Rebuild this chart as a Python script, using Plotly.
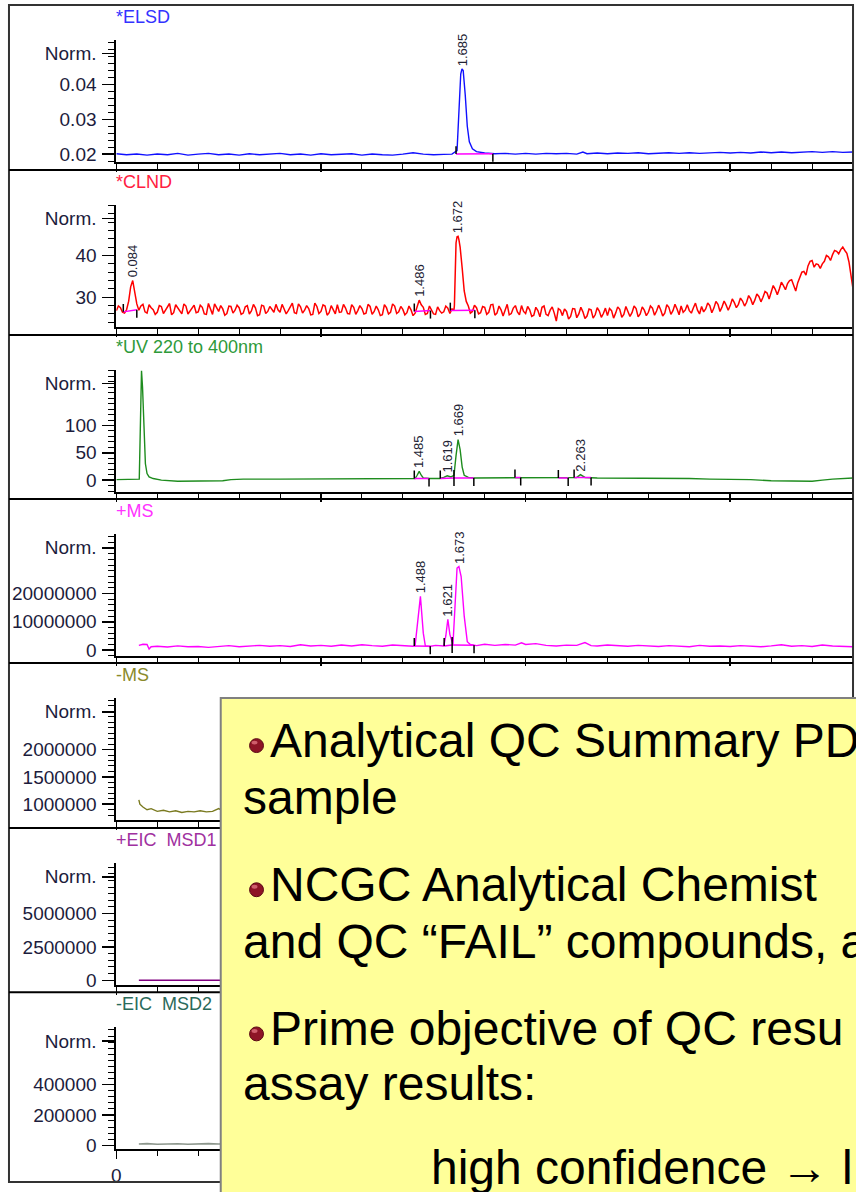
import plotly.graph_objects as go

W, H = 856, 1192

# ---------------- data ----------------
x_range = [0, 3.6]
x_tickvals = [0, 1, 2, 3]
x_ticktext = ["0", "1", "2", "3"]

titles = ["*ELSD", "*CLND", "*UV 220 to 400nm", "+MS", "-MS",
          "+EIC\u00a0 MSD1", "-EIC\u00a0 MSD2"]

# ELSD
elsd_t = [0.00, 0.05, 0.10, 0.15, 0.20, 0.25, 0.30, 0.35, 0.40, 0.45, 0.50, 0.55, 0.60, 0.65,
          0.70, 0.75, 0.80, 0.85, 0.90, 0.95, 1.00, 1.05, 1.10, 1.15, 1.20, 1.25, 1.30, 1.35,
          1.40, 1.45, 1.50, 1.55, 1.60, 1.64, 1.665, 1.675, 1.683, 1.689, 1.695, 1.705, 1.715,
          1.725, 1.74, 1.76, 1.80, 1.85, 1.90, 1.95, 2.00, 2.05, 2.10, 2.15, 2.20, 2.25, 2.28,
          2.30, 2.35, 2.40, 2.45, 2.50, 2.55, 2.60, 2.65, 2.70, 2.75, 2.80, 2.85, 2.90, 2.95,
          3.00, 3.05, 3.10, 3.15, 3.20, 3.25, 3.30, 3.35, 3.40, 3.45, 3.50, 3.55, 3.60]
elsd_v = [0.0201, 0.0198, 0.0200, 0.0197, 0.0200, 0.0198, 0.0202, 0.0197, 0.0200, 0.0202,
          0.0198, 0.0200, 0.0197, 0.0201, 0.0198, 0.0200, 0.0202, 0.0198, 0.0200, 0.0197,
          0.0201, 0.0198, 0.0200, 0.0201, 0.0197, 0.0200, 0.0198, 0.0197, 0.0200, 0.0204,
          0.0200, 0.0198, 0.0199, 0.0200, 0.0210, 0.0330, 0.0430, 0.0445, 0.0440, 0.0370,
          0.0280, 0.0235, 0.0215, 0.0207, 0.0203, 0.0201, 0.0202, 0.0200, 0.0202, 0.0200,
          0.0202, 0.0201, 0.0202, 0.0200, 0.0206, 0.0201, 0.0203, 0.0201, 0.0203, 0.0202,
          0.0204, 0.0201, 0.0203, 0.0204, 0.0202, 0.0204, 0.0202, 0.0204, 0.0205, 0.0203,
          0.0205, 0.0203, 0.0206, 0.0204, 0.0206, 0.0204, 0.0206, 0.0207, 0.0205, 0.0207,
          0.0205, 0.0206]

# CLND: samples at 0.00, 0.02, ... and at 0.01, 0.03, ... plus extra points at the main peak
clnd_dt = 0.02
clnd_v = [26.8, 27.5, 26.2, 29.0, 34.0, 28.4, 27.9, 26.5, 28.2, 27.0,
          26.4, 27.8, 26.9, 28.5, 26.3, 27.4, 26.0, 27.9, 26.7, 28.1,
          26.5, 27.6, 25.9, 27.3, 28.4, 26.6, 27.2, 26.1, 27.8, 26.9,
          27.5, 26.2, 28.0, 26.7, 27.4, 25.8, 27.9, 26.6, 27.1, 28.3,
          26.4, 27.2, 26.8, 28.6, 26.1, 27.7, 26.9, 27.3, 25.9, 27.8,
          26.6, 27.9, 26.3, 27.1, 28.2, 26.5, 27.4, 26.0, 27.6, 26.8,
          27.3, 26.2, 27.8, 26.6, 27.0, 25.8, 27.5, 26.4, 27.9, 26.5,
          27.1, 26.3, 27.0, 26.2, 29.3, 27.6, 26.1, 26.9, 25.9, 26.8,
          26.5, 27.4, 27.2, 43.0, 42.0, 31.5, 27.9, 26.6, 27.5, 26.3,
          27.6, 26.4, 28.3, 26.2, 27.0, 26.7, 25.8, 27.4, 26.5, 28.0,
          26.1, 27.0, 25.7, 26.8, 27.6, 25.9, 26.9, 26.2, 27.3, 25.6,
          26.6, 25.4, 27.2, 26.0, 26.5, 25.5, 27.0, 25.8, 26.7, 26.1,
          25.6, 26.8, 26.2, 27.1, 25.9, 26.6, 26.3, 27.3, 26.0, 26.9,
          26.4, 27.4, 26.7, 27.0, 26.2, 27.6, 26.8, 27.2, 27.9, 26.9,
          26.8, 27.5, 26.9, 27.8, 27.2, 28.0, 27.4, 28.3, 27.7, 28.1,
          28.0, 28.7, 28.3, 29.1, 28.8, 29.6, 29.3, 30.2, 30.0, 31.0,
          31.2, 31.9, 32.0, 32.8, 33.3, 34.2, 31.5, 34.8, 36.2, 37.5,
          38.8, 38.0, 36.9, 38.6, 39.7, 40.2, 41.0, 41.4, 41.2, 38.5,
          32.0]
clnd_v_mid = [27.9, 26.4, 27.0, 32.5, 31.0, 26.9, 28.3, 26.2, 27.5, 25.9,
              28.0, 26.1, 27.9, 25.8, 28.2, 26.5, 28.4, 26.0, 27.5, 26.3,
              28.1, 26.0, 28.5, 25.9, 27.3, 28.0, 25.7, 27.9, 26.2, 28.1,
              25.9, 27.7, 26.0, 28.3, 25.6, 28.1, 26.1, 27.8, 26.4, 27.0,
              28.3, 26.0, 27.9, 26.3, 28.4, 26.2, 28.0, 25.8, 28.6, 26.1,
              28.2, 25.7, 28.0, 26.0, 26.4, 28.3, 26.1, 28.2, 25.9, 28.0,
              26.0, 28.3, 25.9, 27.9, 25.6, 28.2, 26.0, 28.4, 26.1, 27.8,
              25.8, 27.9, 25.6, 27.8, 28.2, 25.9, 27.9, 26.0, 27.7, 26.2,
              27.9, 26.1, 27.0, 44.6, 37.0, 29.0, 26.2, 28.1, 26.0, 27.8,
              25.9, 28.2, 25.7, 27.9, 25.5, 28.3, 26.1, 28.0, 25.8, 26.6,
              27.8, 25.4, 27.6, 25.3, 27.9, 25.6, 27.7, 24.3, 26.9, 27.2,
              24.8, 27.3, 25.1, 27.6, 24.9, 27.2, 25.0, 27.5, 25.2, 27.4,
              27.3, 25.0, 27.7, 25.2, 27.8, 25.4, 27.9, 25.3, 27.7, 25.6,
              27.9, 25.7, 28.1, 25.5, 28.2, 25.9, 28.3, 25.8, 26.4, 28.2,
              26.2, 28.6, 26.0, 26.5, 28.6, 26.3, 29.0, 26.6, 29.1, 26.9,
              29.6, 27.5, 29.8, 27.9, 30.4, 28.2, 30.8, 28.9, 31.4, 29.6,
              32.8, 30.6, 33.6, 31.8, 34.0, 33.0, 33.5, 36.0, 35.3, 38.6,
              37.2, 37.8, 38.0, 40.0, 38.8, 41.2, 40.4, 42.0, 40.5, 35.5]
clnd_extra_t = [1.652, 1.665, 1.674]
clnd_extra_v = [28.0, 44.5, 43.8]

# UV 220-400 nm
uv_t = [0.00, 0.05, 0.10, 0.112, 0.118, 0.123, 0.128, 0.135, 0.142, 0.150, 0.16, 0.18, 0.22,
        0.30, 0.40, 0.48, 0.52, 0.56, 0.62, 0.80, 1.00, 1.20, 1.40, 1.46, 1.47, 1.48, 1.49,
        1.50, 1.53, 1.58, 1.60, 1.617, 1.635, 1.65, 1.66, 1.67, 1.68, 1.69, 1.70, 1.72, 1.75,
        1.80, 1.90, 1.95, 2.00, 2.10, 2.20, 2.25, 2.268, 2.29, 2.35, 2.50, 2.60, 2.70, 2.80,
        2.90, 3.00, 3.10, 3.20, 3.30, 3.40, 3.45, 3.50, 3.60]
uv_v = [1, 1, 1, 2, 110, 200, 170, 80, 30, 12, 6, 3, 0,
        -2, -2, -2, -1, 1, 2, 2, 2, 2, 3, 3, 9, 16, 9,
        4, 3, 3, 5, 8, 6, 9, 45, 74, 56, 24, 9, 5, 4,
        4, 4, 5, 5, 4, 4, 5, 10, 5, 4, 4, 4, 4, 3,
        2, 2, 1, -1, -2, -2, 0, 2, 4]

# +MS (counts)
pms_t = [0.11, 0.12, 0.13, 0.15, 0.16, 0.17, 0.20, 0.25, 0.30, 0.35, 0.40, 0.45, 0.50, 0.55,
         0.60, 0.65, 0.70, 0.75, 0.80, 0.85, 0.90, 0.95, 1.00, 1.05, 1.10, 1.15, 1.20, 1.25,
         1.30, 1.35, 1.40, 1.45, 1.46, 1.47, 1.486, 1.50, 1.51, 1.53, 1.56, 1.60, 1.61, 1.62,
         1.63, 1.645, 1.655, 1.665, 1.674, 1.685, 1.70, 1.715, 1.73, 1.76, 1.80, 1.85, 1.90,
         1.95, 1.98, 2.00, 2.05, 2.10, 2.15, 2.20, 2.25, 2.29, 2.32, 2.35, 2.40, 2.45, 2.50,
         2.55, 2.60, 2.65, 2.70, 2.75, 2.80, 2.85, 2.90, 2.95, 3.00, 3.05, 3.10, 3.15, 3.20,
         3.25, 3.30, 3.35, 3.40, 3.45, 3.50, 3.55, 3.60]
pms_v = [1.7e6, 2.0e6, 2.1e6, 2.0e6, 0.4e6, 1.2e6, 1.4e6, 1.1e6, 1.5e6, 1.2e6, 1.3e6, 1.0e6,
         1.4e6, 1.6e6, 1.2e6, 1.5e6, 1.7e6, 1.4e6, 1.6e6, 1.3e6, 1.9e6, 1.5e6, 1.7e6, 1.4e6,
         1.8e6, 1.5e6, 1.9e6, 1.6e6, 1.4e6, 1.8e6, 1.5e6, 1.4e6, 1.6e6, 9.0e6, 1.9e7, 6.0e6,
         1.5e6, 1.3e6, 1.7e6, 1.5e6, 5.0e6, 1.09e7, 5.5e6, 2.0e6, 1.6e7, 2.9e7, 2.95e7, 2.6e7,
         1.2e7, 3.0e6, 2.0e6, 1.6e6, 2.1e6, 1.7e6, 2.0e6, 1.8e6, 2.6e6, 2.0e6, 2.3e6, 1.7e6,
         1.5e6, 1.8e6, 1.7e6, 2.7e6, 1.6e6, 1.5e6, 1.8e6, 1.6e6, 1.4e6, 1.7e6, 1.5e6, 1.3e6,
         1.6e6, 1.4e6, 1.2e6, 1.7e6, 1.4e6, 1.5e6, 1.3e6, 1.6e6, 1.4e6, 1.2e6, 1.5e6, 1.9e6,
         1.4e6, 1.6e6, 1.3e6, 1.8e6, 1.5e6, 1.4e6, 1.2e6]

# -MS (counts)
nms_t = [0.11, 0.115, 0.13, 0.15, 0.17, 0.20, 0.23, 0.26, 0.29, 0.32, 0.35, 0.38, 0.41, 0.44,
         0.47, 0.50, 0.52, 0.60, 1.00, 1.50, 2.00, 2.50, 3.00, 3.60]
nms_v = [1.08e6, 1.0e6, 0.95e6, 0.90e6, 0.92e6, 0.87e6, 0.89e6, 0.86e6, 0.88e6, 0.85e6,
         0.87e6, 0.86e6, 0.88e6, 0.86e6, 0.87e6, 0.92e6, 0.88e6, 0.87e6, 0.88e6, 0.90e6,
         0.88e6, 0.87e6, 0.88e6, 0.87e6]

# +EIC MSD1
peic_t = [0.11, 1.00, 2.00, 3.60]
peic_v = [0, 0, 0, 0]

# -EIC MSD2
neic_t = [0.11, 0.15, 0.20, 0.25, 0.30, 0.35, 0.40, 0.45, 0.50, 0.55, 1.00, 2.00, 3.60]
neic_v = [8e3, 1.1e4, 7e3, 9e3, 1.0e4, 7e3, 9e3, 1.1e4, 8e3, 9e3, 8e3, 8e3, 8e3]

# y-axis ticks per panel
y_ranges = [[0.01771, 0.05286], [22.86, 52.14], [-21.8, 201.8], [-2.1e6, 4.105e7],
            [7.09e5, 2.945e6], [-3.7e5, 8.81e6], [-2.6e4, 7.8e5]]
y_major = [[0.02, 0.03, 0.04], [30, 40], [0, 50, 100], [0, 1e7, 2e7],
           [1e6, 1.5e6, 2e6], [0, 2.5e6, 5e6], [0, 2e5, 4e5]]
y_major_txt = [["0.02", "0.03", "0.04"], ["30", "40"], ["0", "50", "100"],
               ["0", "10000000", "20000000"], ["1000000", "1500000", "2000000"],
               ["0", "2500000", "5000000"], ["0", "200000", "400000"]]
y_minor = [0.002, 2, 10, 2e6, 1e5, 5e5, 4e4]

# peak labels
peak_panel = [0, 1, 1, 1, 2, 2, 2, 2, 3, 3, 3]
peak_text = ["1.685", "0.084", "1.486", "1.672", "1.485", "1.619", "1.669", "2.263",
             "1.488", "1.621", "1.673"]
peak_time = [1.689, 0.078, 1.480, 1.665, 1.480, 1.617, 1.670, 2.268, 1.486, 1.620, 1.674]
peak_apex = [0.0445, 34.0, 29.3, 44.5, 16, 8, 74, 10, 1.9e7, 1.09e7, 2.95e7]

# integration events
int_panel = [0, 1, 1, 1, 2, 2, 2, 2, 2, 2, 3, 3, 3]
int_start = [1.66, 0.034, 1.456, 1.632, 1.456, 1.583, 1.65, 1.948, 2.16, 2.237, 1.456, 1.602, 1.641]
int_sbase = [0.0200, 26.5, 26.6, 26.8, 3, 3, 4, 5, 4, 5, 1.5e6, 1.5e6, 1.8e6]
int_end = [1.84, 0.100, 1.535, 1.752, 1.528, 1.65, 1.747, 1.976, 2.208, 2.32, 1.534, 1.641, 1.748]
int_ebase = [0.0201, 27.0, 26.8, 26.9, 3, 4, 4, 5, 4, 5, 1.4e6, 1.8e6, 1.7e6]

# text box content
box_lines = ["Analytical QC Summary PD", "sample", "NCGC Analytical Chemist",
             "and QC \u201cFAIL\u201d compounds, a", "Prime objective of QC resu",
             "assay results:", "high confidence \u2192 l"]

# ---------------- styling ----------------
title_colors = ["#3333FF", "#FF2040", "#2E9A3A", "#FF33FF", "#8A8A2A", "#A030A0", "#2A6A5A"]
line_colors = ["#1010FF", "#FF0000", "#1E8C1E", "#FF00FF", "#7A7A20", "#800080", "#8C968C"]
line_widths = [1.4, 1.5, 1.4, 1.4, 1.4, 1.6, 1.6]
tick_color = "#1c1c3c"
FONT = "Liberation Sans, Arial, sans-serif"

tops = [5, 171, 337, 502, 667, 833, 998]
AX_TOP, AX_BOT = 35, 158
x_dom = [112 / W, 853 / W]

clnd_pts = [(round(i * clnd_dt, 3), v) for i, v in enumerate(clnd_v)]
clnd_pts += [(round(0.01 + i * clnd_dt, 3), v) for i, v in enumerate(clnd_v_mid)]
clnd_pts += list(zip(clnd_extra_t, clnd_extra_v))
clnd_pts.sort()
clnd_t = [p[0] for p in clnd_pts]
clnd_vv = [p[1] for p in clnd_pts]

series = [(elsd_t, elsd_v), (clnd_t, clnd_vv), (uv_t, uv_v), (pms_t, pms_v),
          (nms_t, nms_v), (peic_t, peic_v), (neic_t, neic_v)]

fig = go.Figure()
annotations = []
shapes = []


def py(px):
    return 1 - px / H


def px_x(px):
    return px / W


for k in range(7):
    n = k + 1
    sfx = "" if n == 1 else str(n)
    xa, ya = "x" + sfx, "y" + sfx
    S = tops[k]
    y0, y1 = y_ranges[k]
    span = y1 - y0
    t, v = series[k]
    fig.add_trace(go.Scatter(x=t, y=v, mode="lines",
                             line=dict(color=line_colors[k], width=line_widths[k]),
                             xaxis=xa, yaxis=ya, showlegend=False, hoverinfo="skip"))

    ix, iy, tx, ty = [], [], [], []
    unit = span / (AX_BOT - AX_TOP)
    for j, pn in enumerate(int_panel):
        if pn != k:
            continue
        ix += [int_start[j], int_end[j], None]
        iy += [int_sbase[j], int_ebase[j], None]
        tx += [int_start[j], int_start[j], None, int_end[j], int_end[j], None]
        ty += [int_sbase[j], int_sbase[j] + 8 * unit, None,
               int_ebase[j], int_ebase[j] - 8 * unit, None]
    if ix:
        fig.add_trace(go.Scatter(x=ix, y=iy, mode="lines", line=dict(color="#FF00FF", width=1.5),
                                 xaxis=xa, yaxis=ya, showlegend=False, hoverinfo="skip"))
        fig.add_trace(go.Scatter(x=tx, y=ty, mode="lines", line=dict(color="black", width=1.5),
                                 xaxis=xa, yaxis=ya, showlegend=False, hoverinfo="skip"))

    for j, pn in enumerate(peak_panel):
        if pn != k:
            continue
        annotations.append(dict(xref=xa, yref=ya, x=peak_time[j], y=peak_apex[j],
                                text=peak_text[j], textangle=-90, showarrow=False,
                                xanchor="center", yanchor="bottom", yshift=1,
                                font=dict(family=FONT, size=13, color="#222233")))

    norm_v = y0 + (AX_BOT - 49) / (AX_BOT - AX_TOP) * span
    dom = [py(S + AX_BOT), py(S + AX_TOP)]
    fig.update_layout(**{
        "xaxis" + sfx: dict(domain=x_dom, range=x_range, anchor=ya, showline=True,
                            linecolor="black", linewidth=2, ticks="outside", ticklen=8,
                            tickwidth=1.5, tickcolor="black", tickmode="array",
                            tickvals=x_tickvals, ticktext=x_ticktext,
                            showticklabels=(n == 7), showgrid=False, zeroline=False,
                            tickfont=dict(family=FONT, size=19, color=tick_color),
                            minor=dict(tickmode="linear", tick0=0, dtick=0.2, ticks="outside",
                                       ticklen=5, tickwidth=1, tickcolor="black", showgrid=False),
                            fixedrange=True),
        "yaxis" + sfx: dict(domain=dom, range=[y0, y1], anchor=xa, showline=True,
                            linecolor="black", linewidth=2, ticks="outside", ticklen=12,
                            tickwidth=1.5, tickcolor="black", tickmode="array",
                            tickvals=[norm_v] + y_major[k],
                            ticktext=["Norm."] + y_major_txt[k],
                            showgrid=False, zeroline=False, ticklabelstandoff=2,
                            tickfont=dict(family=FONT, size=19, color=tick_color),
                            minor=dict(tickmode="linear", tick0=y_major[k][0], dtick=y_minor[k],
                                       ticks="outside", ticklen=6, tickwidth=1,
                                       tickcolor="black", showgrid=False),
                            fixedrange=True),
    })

    annotations.append(dict(xref="paper", yref="paper", x=px_x(110), y=py(S + 12),
                            text=titles[k], showarrow=False, xanchor="left", yanchor="middle",
                            font=dict(family=FONT, size=18, color=title_colors[k])))

# frame and panel separators
shapes.append(dict(type="rect", xref="paper", yref="paper", x0=px_x(4), x1=px_x(853),
                   y0=py(1189), y1=py(5), line=dict(color="#333333", width=2)))
for S in tops[1:]:
    shapes.append(dict(type="line", xref="paper", yref="paper", x0=px_x(4), x1=px_x(853),
                       y0=py(S), y1=py(S), line=dict(color="black", width=2)))

# yellow text box
shapes.append(dict(type="rect", xref="paper", yref="paper", x0=px_x(217), x1=px_x(900),
                   y0=py(1230), y1=py(702), fillcolor="#FFFF99",
                   line=dict(color="#808080", width=2)))

line_y = [745, 802, 890, 947, 1035, 1090, 1174]
line_x = [265, 237, 265, 237, 265, 237, 426]
for j, txt in enumerate(box_lines):
    annotations.append(dict(xref="paper", yref="paper", x=px_x(line_x[j]), y=py(line_y[j]),
                            text=txt, showarrow=False, xanchor="left", yanchor="middle",
                            font=dict(family=FONT, size=48, color="black")))

for by in [750, 895, 1040]:
    shapes.append(dict(type="circle", xref="paper", yref="paper",
                       x0=px_x(246), x1=px_x(260), y0=py(by + 7), y1=py(by - 7),
                       fillcolor="#8E1426", line=dict(color="#5A0A14", width=1)))
    shapes.append(dict(type="circle", xref="paper", yref="paper",
                       x0=px_x(248), x1=px_x(254), y0=py(by - 1), y1=py(by - 5),
                       fillcolor="#E0707E", line=dict(width=0), opacity=0.8))

fig.update_layout(width=W, height=H, margin=dict(l=0, r=0, t=0, b=0, pad=0),
                  paper_bgcolor="white", plot_bgcolor="white",
                  annotations=annotations, shapes=shapes, showlegend=False)

fig.write_html("out.html", config={"displayModeBar": False, "staticPlot": True},
               post_script="document.body.style.margin='0px';"
                           "document.body.style.overflow='hidden';")
